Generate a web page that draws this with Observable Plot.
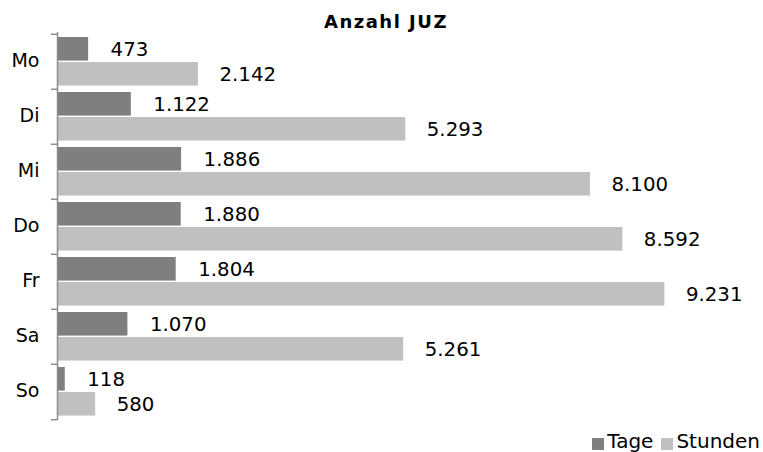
<!DOCTYPE html>
<html>
<head>
<meta charset="utf-8">
<script src="https://cdn.jsdelivr.net/npm/d3@7"></script>
<script src="https://cdn.jsdelivr.net/npm/@observablehq/plot@0.6"></script>
<style>
  html, body { margin: 0; padding: 0; background: #fff; }
  #wrap { position: relative; width: 763px; height: 452px; font-family: "DejaVu Sans", Verdana, sans-serif; }
  #title { position: absolute; left: 0; width: 772px; top: 12px; text-align: center; font-weight: bold; font-size: 18px; letter-spacing: 1.5px; color: #000; line-height: 20px; }
  #legend { position: absolute; right: 3px; top: 431px; font-size: 20px; color: #000; display: flex; align-items: center; line-height: 21px; }
  #legend .sw { display: inline-block; width: 12px; height: 12px; margin-right: 3px; margin-top: 4px; }
  #legend .item { display: inline-flex; align-items: center; margin-left: 8px; }
</style>
</head>
<body>
<div id="wrap">
  <div id="title">Anzahl JUZ</div>
  <div id="legend"></div>
</div>
<script>
const days = ["Mo", "Di", "Mi", "Do", "Fr", "Sa", "So"];
const tage = [473, 1122, 1886, 1880, 1804, 1070, 118];
const stunden = [2142, 5293, 8100, 8592, 9231, 5261, 580];
const seriesNames = ["Tage", "Stunden"];
const seriesColors = ["#7f7f7f", "#c0c0c0"];

const fmt = d3.formatLocale({decimal: ",", thousands: ".", grouping: [3], currency: ["", "€"]}).format(",");

const tageData = days.map((d, i) => ({day: d, value: tage[i]}));
const stundenData = days.map((d, i) => ({day: d, value: stunden[i]}));

const W = 763, H = 452, mT = 32, mB = 32, mL = 57, mR = 48;
const step = (H - mT - mB) / days.length;

const chart = Plot.plot({
  width: W,
  height: H,
  marginTop: mT,
  marginBottom: mB,
  marginLeft: mL,
  marginRight: mR,
  style: {fontFamily: "'DejaVu Sans', Verdana, sans-serif", fontSize: "19.5px", color: "#000", background: "#fff"},
  x: {domain: [0, 10000], axis: null},
  y: {domain: days, padding: 0, label: null},
  marks: [
    Plot.barX(tageData, {x: "value", y: "day", fill: seriesColors[0], insetTop: 3, insetBottom: step - 27}),
    Plot.barX(stundenData, {x: "value", y: "day", fill: seriesColors[1], insetTop: 28, insetBottom: step - 52}),
    Plot.text(tageData, {x: "value", y: "day", text: d => fmt(d.value), dx: 22, dy: -step / 2 + 15, textAnchor: "start", fill: "#000", fontSize: 19.8}),
    Plot.text(stundenData, {x: "value", y: "day", text: d => fmt(d.value), dx: 21, dy: -step / 2 + 40, textAnchor: "start", fill: "#000", fontSize: 19.8}),
    Plot.ruleX([0], {stroke: "#8c8c8c", strokeWidth: 1.5}),
    Plot.axisY({tickSize: 0, tickPadding: 18, fontSize: 19, dy: -1, label: null}),
    Plot.axisY({tickSize: 6, tickFormat: () => "", dy: -step / 2, stroke: "#8c8c8c", strokeWidth: 1.5, label: null}),
    Plot.axisY({ticks: [days[days.length - 1]], tickSize: 6, tickFormat: () => "", dy: step / 2, stroke: "#8c8c8c", strokeWidth: 1.5, label: null})
  ]
});
const wrap = document.getElementById("wrap");
chart.style.position = "absolute";
chart.style.left = "0";
chart.style.top = "0";
wrap.insertBefore(chart, wrap.firstChild);

const legend = document.getElementById("legend");
seriesNames.forEach((n, i) => {
  const it = document.createElement("span");
  it.className = "item";
  const sw = document.createElement("span");
  sw.className = "sw";
  sw.style.background = seriesColors[i];
  it.appendChild(sw);
  it.appendChild(document.createTextNode(n));
  legend.appendChild(it);
});
</script>
</body>
</html>
